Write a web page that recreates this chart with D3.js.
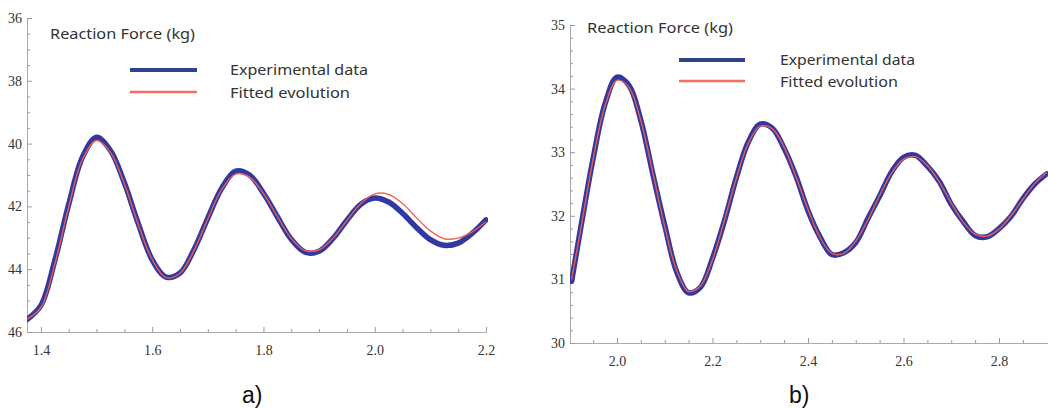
<!DOCTYPE html>
<html><head><meta charset="utf-8">
<script src="https://cdn.jsdelivr.net/npm/d3@7/dist/d3.min.js"></script>
<style>body{margin:0;background:#fff}svg{display:block}.tl{font-family:'Liberation Serif',serif !important;}</style>
</head><body>
<svg id="c" width="1048" height="409"></svg>
<script>
// ---- data ----
const tA = [1.375,1.4,1.425,1.45,1.475,1.5,1.525,1.55,1.575,1.6,1.625,1.65,1.675,1.7,1.725,1.75,1.775,1.8,1.825,1.85,1.875,1.9,1.925,1.95,1.975,2.0,2.025,2.05,2.075,2.1,2.125,2.15,2.175,2.2];
const expA = [45.60,45.15,43.72,41.93,40.42,39.80,40.22,41.25,42.55,43.70,44.25,44.12,43.38,42.37,41.42,40.88,41.00,41.58,42.33,43.05,43.46,43.43,43.02,42.44,41.93,41.73,41.86,42.22,42.67,43.06,43.24,43.17,42.86,42.43];
const fitA = [45.59,45.22,43.84,42.01,40.49,39.90,40.28,41.28,42.57,43.69,44.27,44.13,43.41,42.40,41.46,40.97,41.07,41.59,42.32,43.02,43.41,43.38,43.01,42.45,41.91,41.60,41.62,41.91,42.36,42.78,43.03,43.01,42.81,42.49];

const tB = [1.905,1.925,1.95,1.975,2.0,2.025,2.05,2.075,2.1,2.125,2.15,2.175,2.2,2.225,2.25,2.275,2.3,2.325,2.35,2.375,2.4,2.425,2.45,2.475,2.5,2.525,2.55,2.575,2.6,2.625,2.65,2.675,2.7,2.725,2.75,2.775,2.8,2.825,2.85,2.875,2.9];
const expB = [30.97,31.85,32.90,33.76,34.18,34.05,33.50,32.66,31.85,31.12,30.79,30.88,31.33,31.92,32.60,33.16,33.44,33.38,33.06,32.62,32.08,31.67,31.39,31.42,31.58,31.95,32.31,32.69,32.92,32.95,32.78,32.54,32.18,31.91,31.69,31.67,31.80,31.99,32.27,32.50,32.66];
const fitB = [31.00,31.83,32.89,33.73,34.13,34.02,33.49,32.68,31.83,31.14,30.81,30.90,31.31,31.93,32.59,33.14,33.41,33.37,33.08,32.61,32.10,31.66,31.41,31.41,31.60,31.93,32.32,32.67,32.89,32.93,32.79,32.53,32.20,31.90,31.71,31.68,31.79,32.00,32.26,32.51,32.68];

const xMajorA = [1.4,1.6,1.8,2.0,2.2];
const xMinorA = [1.45,1.5,1.55,1.65,1.7,1.75,1.85,1.9,1.95,2.05,2.1,2.15];
const yMajorA = [36,38,40,42,44,46];
const yMinorA = [36.5,37,37.5,38.5,39,39.5,40.5,41,41.5,42.5,43,43.5,44.5,45,45.5];
const xMajorB = [2.0,2.2,2.4,2.6,2.8];
const xMinorB = [1.95,2.05,2.1,2.15,2.25,2.3,2.35,2.45,2.5,2.55,2.65,2.7,2.75,2.85];
const yMajorB = [30,31,32,33,34,35];
const yMinorB = [30.2,30.4,30.6,30.8,31.2,31.4,31.6,31.8,32.2,32.4,32.6,32.8,33.2,33.4,33.6,33.8,34.2,34.4,34.6,34.8];

const titleText = "Reaction Force (kg)";
const seriesNames = ["Experimental data","Fitted evolution"];
const panelLabels = ["a)","b)"];

// ---- drawing ----
const svg = d3.select("#c");
const BLUE = "#3338a0", RED = "#f0604e";

function panel(cfg){
  const g = svg.append("g");
  const x = d3.scaleLinear().domain(cfg.xd).range(cfg.xr);
  const y = d3.scaleLinear().domain(cfg.yd).range(cfg.yr);
  const clipId = "clip"+cfg.id;
  svg.append("clipPath").attr("id",clipId).append("rect")
    .attr("x",cfg.xr[0]).attr("y",Math.min(...cfg.yr)-6)
    .attr("width",cfg.xr[1]-cfg.xr[0]+2).attr("height",Math.abs(cfg.yr[1]-cfg.yr[0])+10);

  const axB = y(cfg.yAxisAt);
  const styleAx = s=>{s.select(".domain").attr("stroke","#aaa");s.selectAll(".tick line").attr("stroke","#999");
      s.selectAll("text").attr("class","tl").style("font-family","'Liberation Serif', serif").style("font-size","14px").attr("fill","#333");};
  g.append("g").attr("transform",`translate(0,${axB})`)
    .call(d3.axisBottom(x).tickValues(cfg.xMinor).tickSize(-3).tickSizeOuter(0).tickFormat(""))
    .call(styleAx);
  g.append("g").attr("transform",`translate(0,${axB})`)
    .call(d3.axisBottom(x).tickValues(cfg.xMajor).tickSize(-5).tickSizeOuter(0).tickPadding(13).tickFormat(d3.format(".1f")))
    .call(styleAx);
  g.append("g").attr("transform",`translate(${cfg.xr[0]},0)`)
    .call(d3.axisLeft(y).tickValues(cfg.yMinor).tickSize(-3).tickSizeOuter(0).tickFormat(""))
    .call(styleAx);
  g.append("g").attr("transform",`translate(${cfg.xr[0]},0)`)
    .call(d3.axisLeft(y).tickValues(cfg.yMajor).tickSize(-5).tickSizeOuter(0).tickPadding(5).tickFormat(d3.format("d")))
    .call(styleAx);

  const line = d3.line().x(d=>x(d[0])).y(d=>y(d[1])).curve(d3.curveCatmullRom);
  const pg = g.append("g").attr("clip-path",`url(#${clipId})`);
  pg.append("path").datum(cfg.t.map((t,i)=>[t,cfg.exp[i]]))
    .attr("d",line).attr("fill","none").attr("stroke",BLUE).attr("stroke-width",5.5)
    .attr("stroke-linejoin","round").attr("stroke-linecap","round");
  pg.append("path").datum(cfg.t.map((t,i)=>[t,cfg.fit[i]]))
    .attr("d",line).attr("fill","none").attr("stroke",RED).attr("stroke-width",1.4).attr("opacity",0.95);

  const tf = "Noto Sans, sans-serif";
  g.append("text").attr("x",cfg.title[0]).attr("y",cfg.title[1]).text(titleText)
    .attr("font-family",tf).attr("font-size",14).attr("fill","#333")
    .attr("textLength",cfg.title[2]).attr("lengthAdjust","spacingAndGlyphs");
  const L = cfg.legend;
  g.append("line").attr("x1",L.x1).attr("x2",L.x2).attr("y1",L.y1).attr("y2",L.y1).attr("stroke","#2d4488").attr("stroke-width",4);
  g.append("line").attr("x1",L.x1).attr("x2",L.x2).attr("y1",L.y2).attr("y2",L.y2).attr("stroke","#f4705e").attr("stroke-width",2.5);
  g.append("text").attr("x",L.tx).attr("y",L.y1+5).text(seriesNames[0]).attr("font-family",tf).attr("font-size",14).attr("fill","#333")
    .attr("textLength",L.w1).attr("lengthAdjust","spacingAndGlyphs");
  g.append("text").attr("x",L.tx).attr("y",L.y2+6).text(seriesNames[1]).attr("font-family",tf).attr("font-size",14).attr("fill","#333")
    .attr("textLength",L.w2).attr("lengthAdjust","spacingAndGlyphs");

  g.append("text").attr("x",cfg.lab[0]).attr("y",cfg.lab[1]).text(cfg.labText)
    .attr("font-family","Liberation Sans, Arial, sans-serif").attr("font-size",23).attr("fill","#111");
}

panel({id:"A", xd:[1.375,2.2], xr:[27,486], yd:[36,46], yr:[18,332], yAxisAt:46,
  xMajor:xMajorA, xMinor:xMinorA, yMajor:yMajorA, yMinor:yMinorA,
  t:tA, exp:expA, fit:fitA, title:[50,39,145],
  legend:{x1:130,x2:197,y1:70,y2:92,tx:230,w1:138,w2:120}, lab:[242,403], labText:panelLabels[0]});
panel({id:"B", xd:[1.9016,2.9026], xr:[570,1048], yd:[30,35], yr:[343,25], yAxisAt:30,
  xMajor:xMajorB, xMinor:xMinorB, yMajor:yMajorB, yMinor:yMinorB,
  t:tB, exp:expB, fit:fitB, title:[587,33,146],
  legend:{x1:679,x2:745,y1:60,y2:81,tx:780,w1:135,w2:118}, lab:[789,403], labText:panelLabels[1]});
</script>
</body></html>
